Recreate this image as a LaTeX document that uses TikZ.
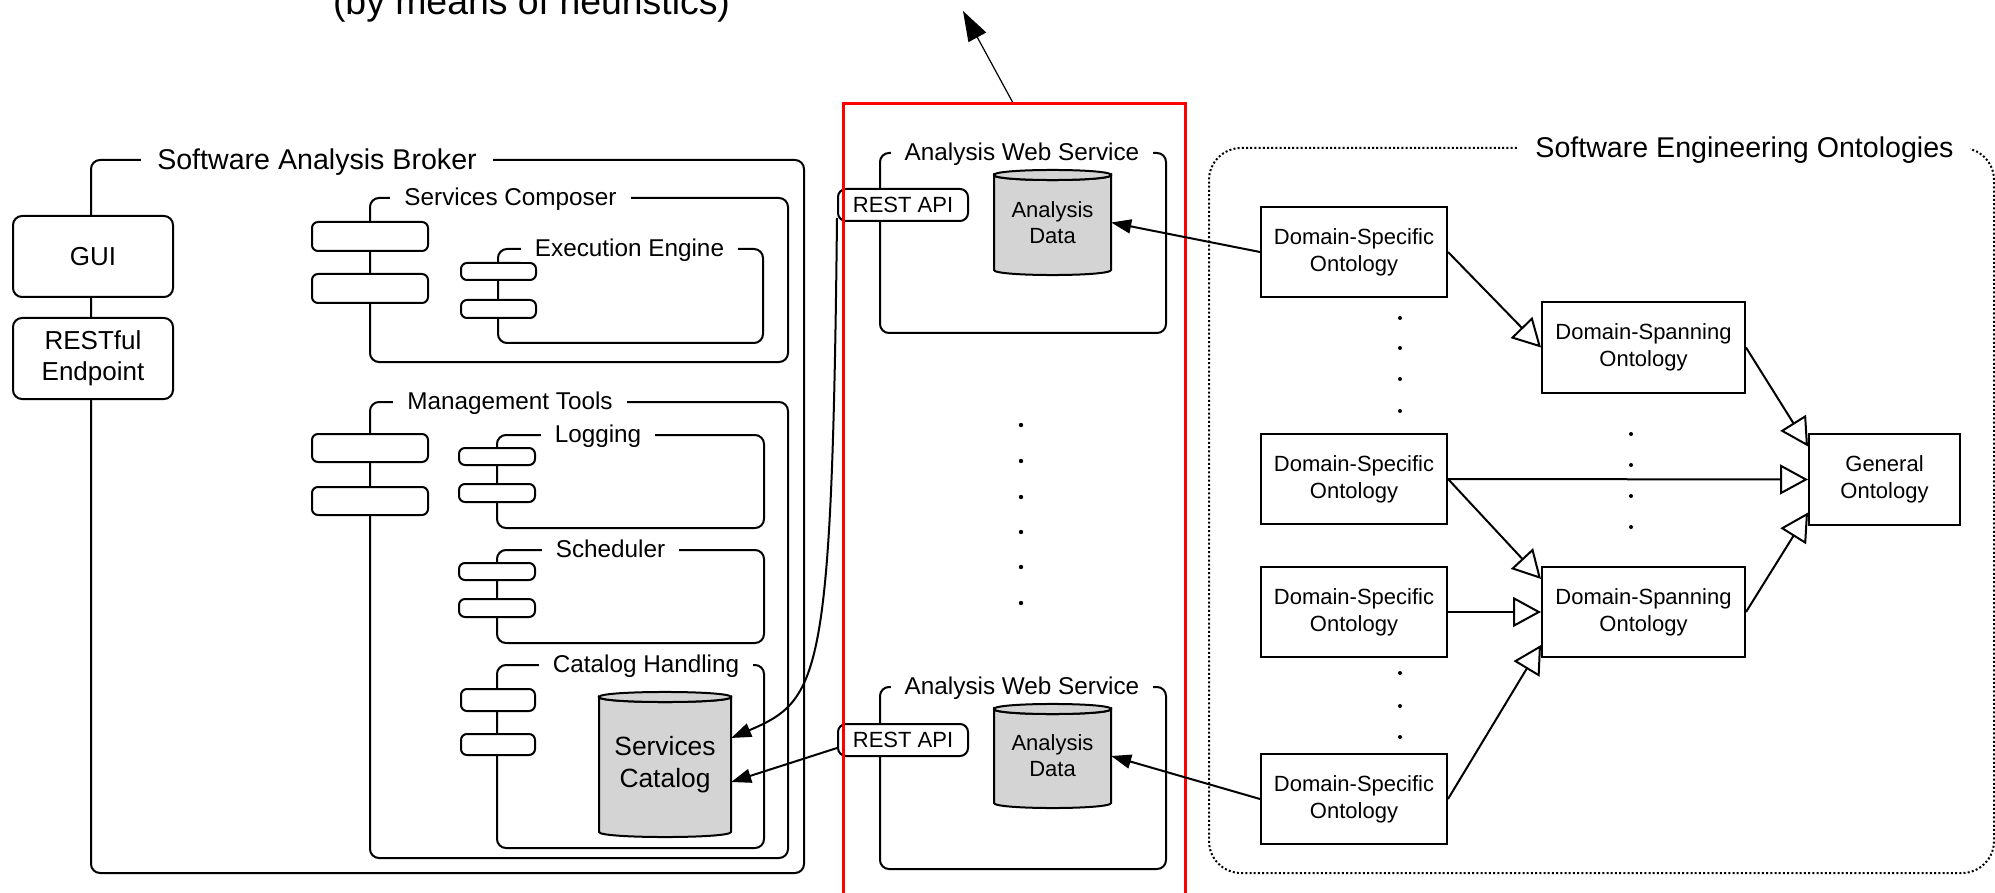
\documentclass[tikz,border=0pt]{standalone}
\usepackage{fontspec}
\setmainfont{Liberation Sans}
\usetikzlibrary{arrows.meta,calc}
\definecolor{dbgray}{RGB}{212,212,212}

% cylinder outline: left x, right x, top y, bottom y (y grows downwards)
\newcommand{\dbcyl}[4]{%
  \filldraw[fill=dbgray, line width=2pt]
    (#1,#3) -- (#1,#4) .. controls (#1,#4+6.7) and (#2,#4+6.7) .. (#2,#4)
    -- (#2,#3) .. controls (#2,#3+6.7) and (#1,#3+6.7) .. cycle;
  \filldraw[fill=dbgray, line width=2pt]
    (#1,#3) .. controls (#1,#3-6.7) and (#2,#3-6.7) .. (#2,#3)
    .. controls (#2,#3+6.7) and (#1,#3+6.7) .. cycle;
}

\tikzset{
  frame/.style={draw, line width=2pt, rounded corners=9pt, inner sep=0pt, anchor=north west},
  ttl/.style={fill=white, inner xsep=14pt, inner ysep=0pt, anchor=base,
    font=\fontsize{24.3}{29}\selectfont},
  ttlbig/.style={ttl, inner xsep=16pt, font=\fontsize{28.6}{34}\selectfont},
  port/.style={draw, fill=white, line width=2pt, rounded corners=6pt, inner sep=0pt,
    anchor=north west},
  ep/.style={draw, fill=white, line width=2pt, rounded corners=9pt, inner sep=0pt,
    anchor=north west, minimum width=160pt, minimum height=81pt, align=center,
    font=\fontsize{26}{31}\selectfont},
  api/.style={draw, fill=white, line width=2pt, rounded corners=8pt, inner sep=0pt,
    anchor=north west, minimum width=130pt, minimum height=32pt,
    font=\fontsize{22}{26}\selectfont},
  onto/.style={draw, line width=2pt, inner sep=0pt, anchor=north west, align=center,
    minimum width=186pt, minimum height=90pt, font=\fontsize{22}{27}\selectfont},
  dbtext/.style={inner sep=0pt, align=center, font=\fontsize{22}{26}\selectfont},
  isa/.style={-{Triangle[open, length=28pt, width=30pt, line width=2pt]}, line width=2pt},
  feed/.style={-{Triangle[length=20pt, width=14pt]}, line width=2pt},
  dotmark/.style={fill=black}
}

\begin{document}
\begin{tikzpicture}[x=1pt, y=-1pt]
\useasboundingbox (0,0) rectangle (1995,893);
\clip (0,0) rectangle (1995,893);

% ---------------- Software Analysis Broker ----------------
\node[frame, minimum width=713pt, minimum height=713pt] (broker) at (90,159) {};
\node[frame, minimum width=418pt, minimum height=164pt] (composer) at (369,197) {};
\node[frame, minimum width=265pt, minimum height=94pt] (engine) at (497,248) {};
\node[frame, minimum width=418pt, minimum height=456pt] (mgmt) at (369,401) {};
\node[frame, minimum width=267pt, minimum height=93pt] (logging) at (496,434) {};
\node[frame, minimum width=267pt, minimum height=93pt] (sched) at (496,549) {};
\node[frame, minimum width=267pt, minimum height=183pt] (cathand) at (496,664) {};

% component ports
\node[port, minimum width=116pt, minimum height=29pt] (compA) at (311,221) {};
\node[port, minimum width=116pt, minimum height=29pt] (compB) at (311,273) {};
\node[port, minimum width=75pt, minimum height=17pt] (engA) at (460,262) {};
\node[port, minimum width=75pt, minimum height=18pt] (engB) at (460,299) {};
\node[port, minimum width=116pt, minimum height=28pt] (mgmtA) at (311,433) {};
\node[port, minimum width=116pt, minimum height=28pt] (mgmtB) at (311,486) {};
\node[port, minimum width=76pt, minimum height=17pt] (logA) at (458,447) {};
\node[port, minimum width=76pt, minimum height=18pt] (logB) at (458,483) {};
\node[port, minimum width=76pt, minimum height=17pt] (schA) at (458,562) {};
\node[port, minimum width=76pt, minimum height=18pt] (schB) at (458,598) {};
\node[port, minimum width=74pt, minimum height=22pt] (catA) at (460,688) {};
\node[port, minimum width=74pt, minimum height=21pt] (catB) at (460,733) {};

% frame titles
\node[ttlbig] (brokerT) at (317,169.2) {Software Analysis Broker};
\node[ttl] (composerT) at (510.5,205.7) {Services Composer};
\node[ttl] (engineT) at (629.5,256.7) {Execution Engine};
\node[ttl] (mgmtT) at (510,409.7) {Management Tools};
\node[ttl] (loggingT) at (598,442.7) {Logging};
\node[ttl] (schedT) at (610.5,557.7) {Scheduler};
\node[ttl] (cathandT) at (646,672.7) {Catalog Handling};

% front ends
\node[ep] (gui) at (12,215) {GUI};
\node[ep] (restful) at (12,317) {RESTful\\Endpoint};

% services catalog
\dbcyl{599}{731}{697}{832}
\node[dbtext, font=\fontsize{26.4}{32}\selectfont, minimum width=132pt, minimum height=135pt]
  (catalog) at (665,764.5) {Services\\Catalog};

% ---------------- Analysis Web Services ----------------
\node[frame, minimum width=286pt, minimum height=180pt] (aws1) at (879,152) {};
\node[frame, minimum width=286pt, minimum height=182pt] (aws2) at (879,686) {};
\node[ttl] (aws1T) at (1022,160.7) {Analysis Web Service};
\node[ttl] (aws2T) at (1022,694.7) {Analysis Web Service};

\dbcyl{994}{1111}{175}{270}
\node[dbtext, minimum width=117pt, minimum height=95pt] (adata1) at (1052.5,222.5) {Analysis\\Data};
\dbcyl{994}{1111}{709}{803}
\node[dbtext, minimum width=117pt, minimum height=94pt] (adata2) at (1052.5,756) {Analysis\\Data};

\node[api] (api1) at (837,188) {REST API};
\node[api] (api2) at (837,723) {REST API};

\foreach \yy in {425,461,497,532,567,603} \fill[dotmark] (1021,\yy) circle (2.2pt);

% highlighted column
\node[draw=red, line width=3pt, inner sep=0pt, anchor=north west,
  minimum width=342pt, minimum height=820pt] (focus) at (842,102) {};

% ---------------- Software Engineering Ontologies ----------------
\node[draw, line width=2pt, dash pattern=on 2pt off 2.2pt, rounded corners=32pt,
  inner sep=0pt, anchor=north west, minimum width=785pt, minimum height=725pt]
  (seo) at (1208,147) {};
\node[ttlbig] (seoT) at (1744.5,157.2) {Software Engineering Ontologies};

\node[onto] (dso1) at (1260,206) {Domain-Specific\\Ontology};
\node[onto] (dso2) at (1260,433) {Domain-Specific\\Ontology};
\node[onto] (dso3) at (1260,566) {Domain-Specific\\Ontology};
\node[onto] (dso4) at (1260,753) {Domain-Specific\\Ontology};
\node[onto, minimum width=203pt, minimum height=91pt] (dsp1) at (1541,301) {Domain-Spanning\\Ontology};
\node[onto, minimum width=203pt, minimum height=90pt] (dsp2) at (1541,566) {Domain-Spanning\\Ontology};
\node[onto, minimum width=151pt, minimum height=91pt] (gen) at (1808,433) {General\\Ontology};

\foreach \yy in {318,348,379,411,673,706,737} \fill[dotmark] (1400,\yy) circle (2pt);
\foreach \yy in {434,465,496,527} \fill[dotmark] (1631,\yy) circle (2pt);

\draw[isa] (dso1.east) -- (dsp1.west);
\draw[isa] (dso2.east) -- ([yshift=33pt]dsp2.west);
\draw[isa] (dso3.east) -- (dsp2.west);
\draw[isa] (dso4.east) -- ([yshift=-33pt]dsp2.west);
\draw[isa] (dsp1.east) -- ([yshift=33pt]gen.west);
\draw[isa] (dso2.east) -- (gen.west);
\draw[isa] (dsp2.east) -- ([yshift=-33pt]gen.west);

% data flows
\draw[feed] (dso1.west) -- (adata1.east);
\draw[feed] (dso4.west) -- (adata2.east);
\draw[feed] ([yshift=4pt]api1.south west) .. controls (832,680) and (820,700) .. ([yshift=26.5pt]catalog.east);
\draw[feed] ([yshift=-8pt]api2.west) -- ([yshift=-17.5pt]catalog.east);

% note at the top
\node[anchor=base, inner sep=0pt, font=\fontsize{37.4}{44}\selectfont] (note) at (531.5,15) {(by means of heuristics)};
\coordinate (noteTip) at (963,11);
\draw[-{Triangle[length=30pt, width=20pt]}, line width=1.2pt] ([xshift=-2pt]focus.north) -- (noteTip);
\end{tikzpicture}
\end{document}
